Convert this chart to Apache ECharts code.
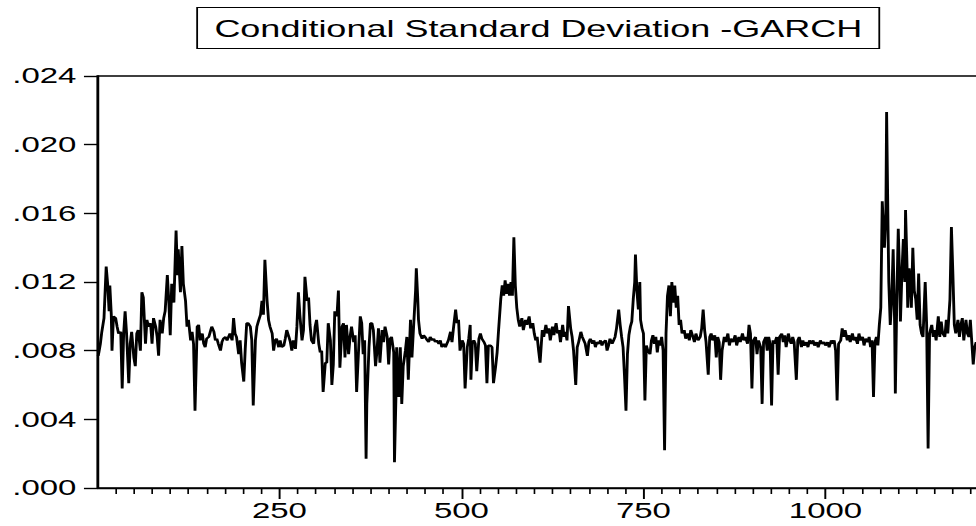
<!DOCTYPE html>
<html>
<head>
<meta charset="utf-8">
<title>Conditional Standard Deviation -GARCH</title>
<script src="https://cdn.jsdelivr.net/npm/echarts@6/dist/echarts.min.js"></script>
<style>
  html, body { margin: 0; padding: 0; background: #fff; overflow: hidden; }
  /* the source graph is stretched sideways, so draw narrow and widen;
     the frame runs past the right edge of the window */
  #chart { width: 700px; height: 526px; transform: scaleX(1.4992); transform-origin: 0 0; }
</style>
</head>
<body>
<div id="chart"></div>
<script>
const seg1 = [[1,.0077],[2,.0079],[4,.0084],[6,.0091],[9,.0099],[12,.0129],[14,.0119],[16,.0103],[17,.0118],[19,.0101],[20,.0080],[22,.0100],[25,.0099],[27,.0094],[29,.0090],[32,.0091],[34,.0058],[36,.0090],[38,.0103],[40,.0090],[43,.0061],[45,.0084],[47,.0091],[50,.0076],[52,.0071],[54,.0090],[56,.0092],[59,.0080],[61,.0114],[63,.0111],[66,.0084],[68,.0098],[70,.0094],[73,.0096],[75,.0084],[77,.0099],[80,.0094],[82,.0088],[84,.0077],[86,.0098],[89,.0090],[91,.0099],[93,.0103],[96,.0124],[98,.0109],[100,.0089],[102,.0119],[105,.0108],[107,.0136],[108,.0150],[110,.0124],[111,.0139],[114,.0114],[116,.0141],[118,.0119],[121,.0109],[123,.0094],[125,.0098],[128,.0086],[130,.0091],[132,.0084],[134,.0045],[137,.0094],[139,.0095],[141,.0086],[144,.0090],[146,.0084],[148,.0082],[150,.0087],[153,.0088],[155,.0091],[157,.0094],[160,.0091],[162,.0086],[164,.0087],[166,.0084],[169,.0080],[171,.0085],[173,.0087],[176,.0088],[178,.0086],[180,.0088],[182,.0090],[185,.0086],[187,.0099],[189,.0090],[191,.0088],[194,.0078],[196,.0086],[198,.0073]];
const seg2 = [[201,.0062],[203,.0081],[205,.0096],[207,.0096],[210,.0094],[212,.0086],[214,.0048],[217,.0086],[219,.0094],[221,.0097],[224,.0101],[226,.0109],[228,.0101],[230,.0133],[233,.0109],[235,.0098],[237,.0094],[240,.0090],[242,.0080],[244,.0086],[246,.0087],[249,.0082],[251,.0086],[253,.0082],[256,.0083],[258,.0087],[260,.0092],[263,.0088],[265,.0085],[267,.0080],[269,.0086],[272,.0081],[274,.0094],[276,.0114],[278,.0101],[281,.0086],[283,.0092],[285,.0123],[288,.0109],[290,.0111],[292,.0095],[294,.0086],[297,.0084],[299,.0094],[301,.0098],[304,.0084],[306,.0079],[308,.0080],[310,.0056],[313,.0073],[315,.0073],[317,.0096],[320,.0086],[322,.0060],[324,.0072],[326,.0103],[329,.0100],[331,.0115],[333,.0070],[336,.0094],[338,.0096],[340,.0076],[342,.0095],[345,.0078],[347,.0088],[349,.0094],[352,.0085],[354,.0089],[356,.0056],[359,.0083],[361,.0100],[363,.0096],[365,.0078],[367,.0086],[369,.0017],[370,.0049],[373,.0082],[375,.0096],[377,.0096],[379,.0092],[382,.0071],[384,.0080],[386,.0093],[388,.0073],[391,.0092],[393,.0085],[395,.0094],[398,.0088]];
const seg3 = [[400,.0072],[402,.0087],[404,.0088],[407,.0079],[408,.0015],[410,.0053],[411,.0082],[414,.0053],[416,.0082],[418,.0049],[420,.0071],[423,.0080],[425,.0088],[427,.0063],[430,.0098],[432,.0076],[434,.0092],[437,.0115],[438,.0128],[440,.0110],[441,.0098],[443,.0090],[446,.0087],[448,.0089],[450,.0088],[453,.0086],[455,.0085],[457,.0088],[460,.0086],[462,.0087],[464,.0085],[466,.0086],[469,.0084],[471,.0086],[473,.0082],[476,.0084],[478,.0082],[480,.0084],[482,.0086],[485,.0091],[487,.0085],[489,.0093],[492,.0104],[494,.0096],[496,.0098],[498,.0080],[501,.0086],[503,.0084],[505,.0058],[508,.0082],[510,.0087],[512,.0095],[513,.0063],[515,.0085],[517,.0086],[519,.0084],[521,.0068],[524,.0087],[526,.0090],[528,.0087],[531,.0085],[533,.0083],[535,.0061],[537,.0083],[540,.0083],[542,.0082],[544,.0061],[547,.0071],[549,.0079],[551,.0092],[554,.0110],[556,.0118],[558,.0112],[560,.0121],[562,.0113],[564,.0119],[566,.0112],[568,.0120],[570,.0112],[572,.0146],[574,.0118],[576,.0105],[578,.0098],[580,.0094],[583,.0099],[585,.0092],[588,.0098],[590,.0095],[593,.0100],[595,.0093],[598,.0096]];
const seg4 = [[600,.0090],[602,.0086],[604,.0088],[606,.0080],[608,.0073],[611,.0092],[613,.0088],[616,.0095],[618,.0090],[620,.0093],[622,.0086],[625,.0094],[627,.0089],[630,.0096],[632,.0090],[634,.0092],[636,.0085],[639,.0095],[641,.0088],[643,.0091],[645,.0086],[647,.0106],[650,.0093],[652,.0088],[654,.0080],[657,.0060],[659,.0082],[661,.0085],[664,.0091],[666,.0088],[668,.0086],[670,.0084],[673,.0077],[675,.0085],[677,.0087],[680,.0084],[682,.0086],[684,.0082],[686,.0085],[689,.0084],[691,.0086],[693,.0083],[695,.0085],[698,.0086],[700,.0080],[702,.0083],[704,.0087],[707,.0084],[709,.0086],[711,.0088],[713,.0093],[716,.0104],[718,.0095],[720,.0088],[722,.0082],[724,.0065],[726,.0045],[728,.0078],[730,.0089],[732,.0094],[734,.0097],[736,.0110],[738,.0120],[739,.0136],[741,.0115],[743,.0104],[745,.0120],[746,.0098],[748,.0093],[750,.0090],[752,.0051],[754,.0083],[756,.0080],[759,.0078]];
const seg5 = [[761,.0086],[763,.0089],[765,.0084],[767,.0088],[769,.0079],[771,.0086],[773,.0083],[775,.0088],[777,.0080],[779,.0022],[781,.0090],[783,.0112],[785,.0118],[787,.0100],[789,.0120],[791,.0108],[793,.0118],[795,.0105],[797,.0112],[799,.0095],[801,.0098],[803,.0090],[806,.0092],[808,.0087],[811,.0090],[813,.0086],[815,.0092],[818,.0088],[820,.0085],[822,.0090],[825,.0086],[828,.0088],[830,.0093],[832,.0104],[834,.0092],[836,.0085],[839,.0066],[841,.0088],[843,.0090],[845,.0086],[848,.0089],[850,.0076],[852,.0088],[854,.0085],[856,.0063],[858,.0080],[861,.0088],[863,.0085],[866,.0090],[868,.0083],[870,.0087],[873,.0085],[876,.0089],[878,.0083],[881,.0088],[883,.0085],[886,.0090],[888,.0086],[890,.0088],[893,.0084],[895,.0095],[897,.0090],[899,.0058],[901,.0086],[904,.0088],[906,.0078],[908,.0086],[911,.0082],[913,.0049],[915,.0085],[918,.0088],[920,.0080],[922,.0088],[924,.0084],[926,.0048],[928,.0086],[930,.0084],[933,.0088],[935,.0066],[937,.0088],[940,.0090],[942,.0085],[944,.0089],[946,.0082],[949,.0090],[951,.0086],[953,.0084],[955,.0088],[957,.0085],[960,.0063],[962,.0086],[964,.0088],[967,.0082],[969,.0086],[971,.0083],[974,.0085],[976,.0082],[978,.0086],[981,.0084],[983,.0086],[985,.0083],[988,.0085],[990,.0082],[993,.0086],[995,.0084],[998,.0085]];
const seg6 = [[1000,.0083],[1003,.0085],[1005,.0082],[1008,.0086],[1010,.0084],[1012,.0086],[1014,.0080],[1016,.0051],[1018,.0084],[1021,.0086],[1023,.0093],[1025,.0088],[1027,.0092],[1030,.0086],[1032,.0089],[1034,.0085],[1037,.0090],[1039,.0086],[1041,.0088],[1044,.0084],[1046,.0090],[1048,.0086],[1051,.0088],[1053,.0083],[1055,.0087],[1058,.0085],[1060,.0088],[1062,.0082],[1064,.0086],[1066,.0053],[1068,.0085],[1070,.0088],[1072,.0083],[1074,.0095],[1076,.0105],[1078,.0167],[1081,.0140],[1083,.0160],[1084,.0219],[1086,.0150],[1087,.0120],[1089,.0095],[1091,.0110],[1093,.0139],[1095,.0096],[1096,.0055],[1098,.0110],[1100,.0151],[1102,.0120],[1103,.0097],[1105,.0125],[1107,.0145],[1109,.0120],[1110,.0162],[1112,.0130],[1113,.0105],[1115,.0128],[1117,.0118],[1118,.0105],[1120,.0140],[1122,.0115],[1124,.0110],[1126,.0098],[1128,.0125],[1130,.0095],[1132,.0090],[1134,.0088],[1137,.0120],[1139,.0095],[1141,.0023],[1143,.0090],[1146,.0095],[1148,.0088],[1150,.0092],[1152,.0086],[1155,.0100],[1157,.0088],[1159,.0097],[1161,.0090],[1164,.0088],[1166,.0098],[1168,.0090],[1171,.0110],[1173,.0152],[1175,.0125],[1177,.0095],[1179,.0090],[1182,.0098],[1184,.0088],[1186,.0095],[1188,.0099],[1190,.0086],[1193,.0098],[1195,.0090],[1197,.0088],[1199,.0098],[1201,.0085],[1203,.0072],[1205,.0082],[1207,.0085],[1210,.0080],[1212,.0086]];

const xTicks = [250, 500, 750, 1000];
const titleText = 'Conditional Standard Deviation -GARCH';

const chart = echarts.init(document.getElementById('chart'), null, { renderer: 'svg' });
const font = '"Liberation Sans", Arial, sans-serif';

const option = {
  animation: false,
  backgroundColor: '#fff',
  title: {
    text: titleText,
    left: 131,
    top: 7,
    padding: [9, 12],
    borderColor: '#000',
    borderWidth: 1.2,
    textStyle: { fontSize: 24, fontWeight: 'normal', color: '#000', fontFamily: font }
  },
  grid: {
    left: 65,
    top: 76,
    height: 412,
    width: 607,
    show: true,
    borderColor: '#000',
    borderWidth: 1.4,
    containLabel: false
  },
  xAxis: {
    type: 'value',
    min: 0,
    max: 1250,
    interval: 250,
    axisLine: { show: true, lineStyle: { color: '#000', width: 1.4 } },
    axisTick: { show: true, customValues: xTicks, length: 11, lineStyle: { color: '#000', width: 1.3 } },
    minorTick: { show: true, splitNumber: 10, length: 6, lineStyle: { color: '#000', width: 1.1 } },
    axisLabel: {
      customValues: xTicks,
      margin: 12,
      fontSize: 22,
      color: '#000',
      fontFamily: font,
      formatter: v => String(v)
    },
    splitLine: { show: false }
  },
  yAxis: {
    type: 'value',
    min: 0,
    max: 0.024,
    interval: 0.004,
    axisLine: { show: true, lineStyle: { color: '#000', width: 1.4 } },
    axisTick: { show: true, length: 9, lineStyle: { color: '#000', width: 1.4 } },
    axisLabel: {
      margin: 14,
      fontSize: 22,
      color: '#000',
      fontFamily: font,
      formatter: v => v.toFixed(3).replace(/^0/, '')
    },
    splitLine: { show: false }
  },
  series: [{
    type: 'line',
    data: [].concat(seg1, seg2, seg3, seg4, seg5, seg6),
    showSymbol: false,
    lineStyle: { color: '#000', width: 1.9 }
  }]
};

chart.setOption(option);
</script>
</body>
</html>
